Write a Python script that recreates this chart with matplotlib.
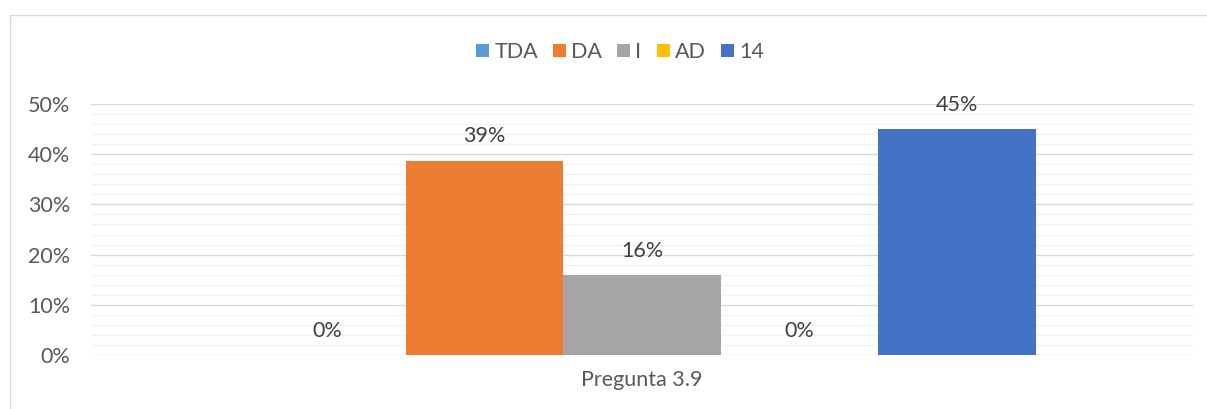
import matplotlib.pyplot as plt
import numpy as np
from matplotlib.patches import Rectangle
from matplotlib.ticker import MultipleLocator, FuncFormatter

categoria = "Pregunta 3.9"
series = ["TDA", "DA", "I", "AD", "14"]
valores = [0.0, 0.387, 0.159, 0.0, 0.45]
etiquetas = ["0%", "39%", "16%", "0%", "45%"]
colores = ["#5b9bd5", "#ed7d31", "#a5a5a5", "#ffc000", "#4472c4"]

plt.rcParams['font.family'] = ['Lato', 'DejaVu Sans']

fig = plt.figure(figsize=(12.07, 4.09), dpi=100)

# Rahmen des Diagrammbereichs
fig.patches.append(Rectangle((10 / 1207, -0.1), 1.2, 0.1 + 394 / 409, transform=fig.transFigure,
                             fill=False, edgecolor="#d9d9d9", linewidth=1.0))

ax = fig.add_axes([91 / 1207, 1 - 355 / 409, (1193 - 91) / 1207, (355 - 104) / 409])

breite = 1 / 7
for i, (name, wert, farbe, text) in enumerate(zip(series, valores, colores, etiquetas)):
    x = (i - 2) * breite
    ax.bar(x, wert, width=breite, color=farbe, label=name, zorder=3)
    ax.annotate(text, (x, wert), textcoords="offset points", xytext=(0, 17.5),
                ha='center', va='center', fontsize=15.5, color="#404040")

ax.set_xlim(-0.5, 0.5)
ax.set_ylim(0, 0.5)
ax.yaxis.set_major_locator(MultipleLocator(0.1))
ax.yaxis.set_minor_locator(MultipleLocator(0.02))
ax.yaxis.set_major_formatter(FuncFormatter(lambda v, p: f"{v * 100:.0f}%"))
ax.grid(which='major', axis='y', color="#d9d9d9", linewidth=1.0, zorder=0)
ax.grid(which='minor', axis='y', color="#f2f2f2", linewidth=1.0, zorder=0)
ax.set_axisbelow(True)
for s in ax.spines.values():
    s.set_visible(False)
ax.tick_params(axis='y', which='both', length=0, pad=15, labelsize=15.5, labelcolor="#595959")
ax.set_xticks([0])
ax.set_xticklabels([categoria])
ax.tick_params(axis='x', length=0, pad=11, labelsize=15.5, labelcolor="#595959")

fig.legend(loc='center', bbox_to_anchor=(620 / 1207, 1 - 52 / 409), ncol=5, frameon=False,
           fontsize=15.5, handlelength=0.6, handleheight=0.6, handletextpad=0.25,
           columnspacing=0.7, labelcolor="#595959")

fig.savefig("out.png", dpi=100)
